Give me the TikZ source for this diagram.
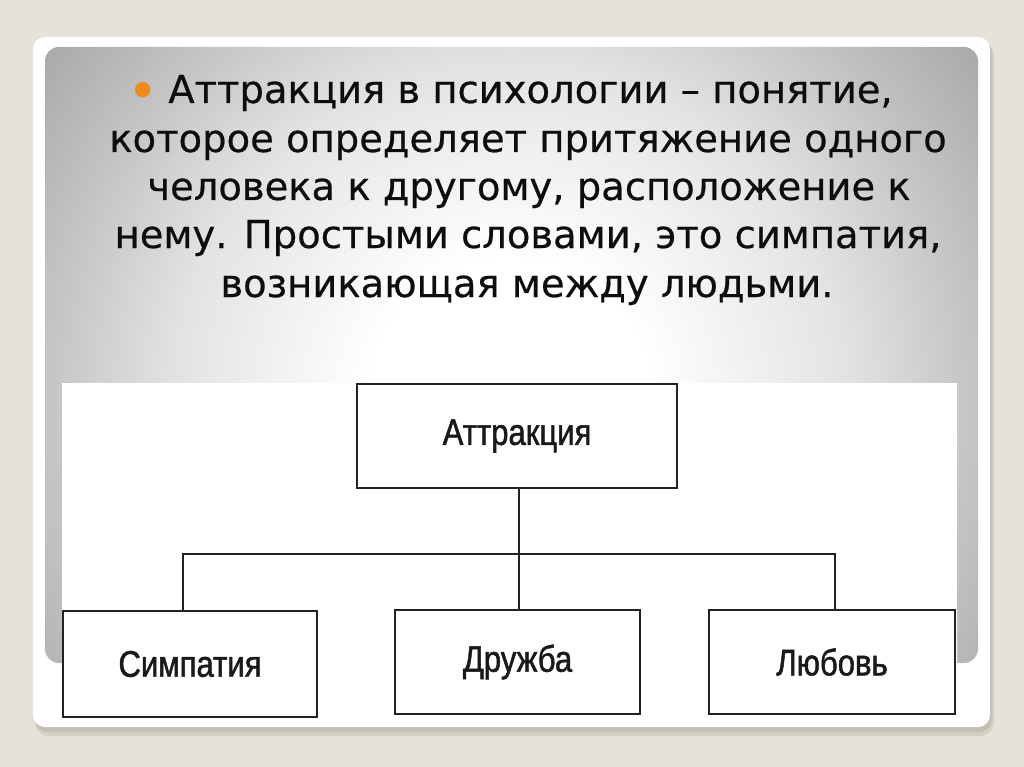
\documentclass[tikz,border=0pt]{standalone}
\usepackage{fontspec}
\setmainfont{DejaVu Sans}[FakeBold=0.5]
\newfontfamily\boxfont[FakeStretch=0.84,FakeBold=1.3]{Liberation Sans}
\definecolor{bgbeige}{HTML}{E7E2D8}
\definecolor{shadowc}{HTML}{C4BFB3}
\definecolor{bulletc}{HTML}{F08A1C}
\definecolor{linec}{HTML}{222222}
\pgfdeclareradialshading{panelshade}{\pgfpoint{0bp}{0bp}}{color(0bp)=(white); color(5bp)=(white); color(12bp)=(black!11); color(16.5bp)=(black!23); color(21bp)=(black!34); color(25bp)=(black!40); color(50bp)=(black!40)}
\tikzset{
  bodytext/.style={font=\fontsize{38.5}{48}\selectfont, text=black!95, inner sep=0pt, anchor=base},
  diagbox/.style={draw=linec, line width=1.7pt, fill=white, inner sep=0pt, outer sep=0pt, font=\boxfont\fontsize{37}{40}\selectfont, text=black!90},
  conn/.style={draw=linec, line width=1.6pt}
}
\begin{document}
\begin{tikzpicture}[x=1pt,y=-1pt]
\useasboundingbox (0,0) rectangle (1024,767);
\fill[bgbeige] (0,0) rectangle (1024,767);
% card shadow
\fill[shadowc, opacity=0.5, rounded corners=14pt] (35,42) rectangle (994,736);
\fill[shadowc, rounded corners=13pt] (35,40) rectangle (992,732);
% white card
\fill[white, rounded corners=12pt] (33,37) rectangle (990,727);
% gray gradient panel
\begin{scope}
\clip[rounded corners=14pt] (45,47) rectangle (978,663);
\shade[shading=panelshade] (510,400) circle (700);
\end{scope}
% text
\node[bodytext] (t1) at (510,103) {\raisebox{-6pt}{\color{bulletc}\fontsize{52}{48}\selectfont•}\hspace{-2pt} Аттракция в психологии – понятие,};
\node[bodytext] (t2) at (528,152) {которое определяет притяжение одного};
\node[bodytext] (t3) at (529,200) {человека к другому, расположение к};
\node[bodytext] (t4) at (528,248) {нему. Простыми словами, это симпатия,};
\node[bodytext] (t5) at (527,297) {возникающая между людьми.};
% white diagram area
\fill[white] (62,383) rectangle (957,723);
% diagram
\node[diagbox, minimum width=320pt, minimum height=104pt] (attr) at (517,436) {Аттракция};
\node[diagbox, minimum width=254pt, minimum height=106pt] (simp) at (190,664) {Симпатия};
\node[diagbox, minimum width=245pt, minimum height=104pt] (druzh) at (517.5,662) {Дружба};
\node[diagbox, minimum width=246pt, minimum height=104pt] (lyub) at (832,662) {Любовь};
\coordinate (bus) at (519,554);
\draw[conn] (attr.south -| bus) -- (druzh.north -| bus);
\draw[conn] ([xshift=-7pt]simp.north) |- (bus) -| ([xshift=3pt]lyub.north);
\end{tikzpicture}
\end{document}
